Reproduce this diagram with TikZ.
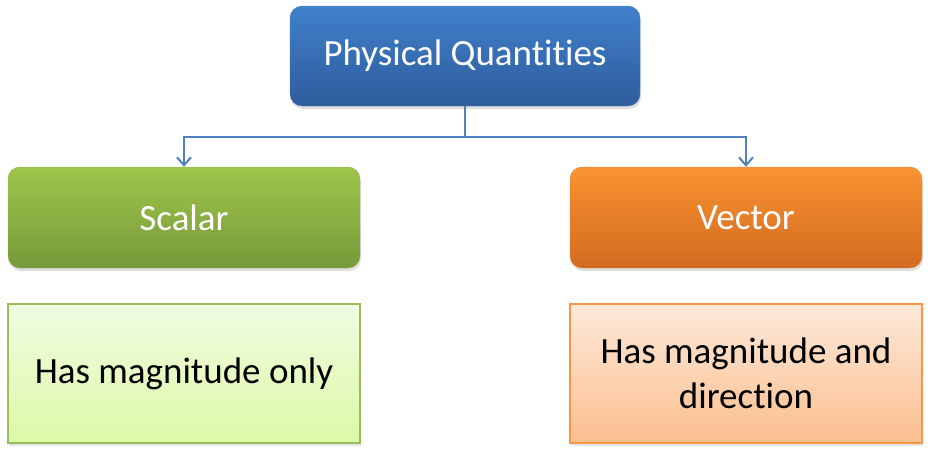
\documentclass[tikz,border=0pt]{standalone}
\usepackage{fontspec}
\setmainfont{Carlito}[Ligatures=NoCommon]
\usepackage{tikz}
\usetikzlibrary{positioning,arrows.meta,shadows}
\definecolor{linkblue}{HTML}{4F81BD}
\definecolor{blueTop}{HTML}{4080CC}
\definecolor{blueBot}{HTML}{2E5C9C}
\definecolor{greenTop}{HTML}{9DC64A}
\definecolor{greenBot}{HTML}{77993A}
\definecolor{orangeTop}{HTML}{F99332}
\definecolor{orangeBot}{HTML}{D26B1F}
\definecolor{paleGreenTop}{HTML}{F1FCE2}
\definecolor{paleGreenBot}{HTML}{DCF9A6}
\definecolor{paleOrangeTop}{HTML}{FDE9DA}
\definecolor{paleOrangeBot}{HTML}{FBBF8E}
\definecolor{greenEdge}{HTML}{9BBB59}
\definecolor{orangeEdge}{HTML}{F79646}

\begin{document}
\begin{tikzpicture}[x=1pt, y=-1pt, font=\fontsize{37}{45}\selectfont,
  head/.style 2 args={rounded corners=12pt, top color=#1, bottom color=#2, draw=#2!80!white,
    text=white, align=center, minimum width=352pt, minimum height=101pt, inner sep=0pt,
    drop shadow={opacity=0.25, shadow xshift=1pt, shadow yshift=-3pt}},
  note/.style 2 args={top color=#1, bottom color=#2, align=center, line width=1.5pt,
    minimum width=352pt, minimum height=139pt, inner sep=0pt,
    drop shadow={opacity=0.2, shadow xshift=1pt, shadow yshift=-3pt}},
  arr/.style={-{Straight Barb[length=8pt, width=14pt]}, line width=2pt, draw=linkblue}]
  \useasboundingbox (0,0) rectangle (932,455);
  \node[head={blueTop}{blueBot}, minimum width=350pt, minimum height=100pt] (phys) at (465,56) {Physical Quantities};
  \node[head={greenTop}{greenBot}] (scalar) at (184,217.5) {Scalar};
  \node[head={orangeTop}{orangeBot}] (vector) at (746,217.5) {Vector};
  \node[note={paleGreenTop}{paleGreenBot}, draw=greenEdge] (sdesc) at (184,373.5) {Has magnitude only};
  \node[note={paleOrangeTop}{paleOrangeBot}, draw=orangeEdge] (vdesc) at (746,373.5) {Has magnitude and\\direction};
  \draw[arr] (phys.south) -- ++(0,31) -| (scalar.north);
  \draw[arr] (phys.south) -- ++(0,31) -| (vector.north);
\end{tikzpicture}
\end{document}
